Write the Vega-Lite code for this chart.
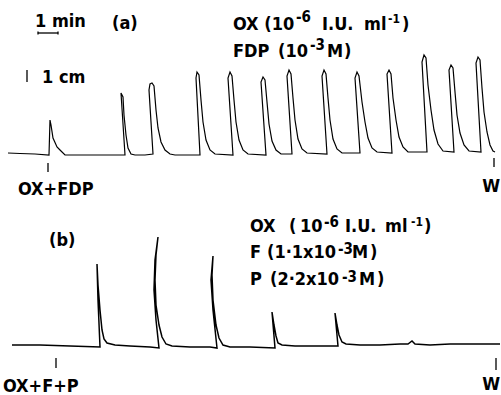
{
  "$schema": "https://vega.github.io/schema/vega-lite/v6.json",
  "padding": 0,
  "spacing": 0,
  "bounds": "flush",
  "background": "white",
  "config": {"view": {"stroke": null}, "text": {"font": "'DejaVu Sans Condensed', 'DejaVu Sans'", "fontSize": 18, "fontWeight": "bold", "color": "black", "baseline": "alphabetic", "align": "left"}},
  "datasets": {
    "traceA": [
      {"t":0,"v":2},{"t":36,"v":1.5},{"t":81,"v":1},{"t":123,"v":0},{"t":126,"v":35},{"t":129,"v":30},{"t":135,"v":17},{"t":147,"v":8},{"t":156,"v":5},{"t":171,"v":0},{"t":246,"v":0},{"t":306,"v":0},{"t":351,"v":0},
      {"t":339,"v":62},{"t":345,"v":58},{"t":348,"v":40},{"t":354,"v":20},{"t":360,"v":7},{"t":369,"v":1},{"t":381,"v":0},{"t":411,"v":0},{"t":435,"v":1},
      {"t":423,"v":65},{"t":426,"v":71},{"t":432,"v":72},{"t":438,"v":69},{"t":444,"v":45},{"t":450,"v":27},{"t":459,"v":13},{"t":471,"v":5},{"t":486,"v":1},{"t":501,"v":0},{"t":576,"v":0},
      {"t":564,"v":77},{"t":567,"v":83},{"t":573,"v":80},{"t":579,"v":55},{"t":585,"v":33},{"t":594,"v":15},{"t":606,"v":5},{"t":621,"v":1},{"t":675,"v":0},
      {"t":660,"v":77},{"t":666,"v":83},{"t":672,"v":79},{"t":678,"v":55},{"t":684,"v":33},{"t":693,"v":15},{"t":705,"v":5},{"t":720,"v":1},{"t":774,"v":0},
      {"t":759,"v":73},{"t":765,"v":78},{"t":771,"v":75},{"t":777,"v":53},{"t":783,"v":31},{"t":792,"v":14},{"t":804,"v":5},{"t":819,"v":1},{"t":852,"v":1},
      {"t":837,"v":79},{"t":843,"v":85},{"t":849,"v":81},{"t":855,"v":57},{"t":861,"v":35},{"t":870,"v":16},{"t":882,"v":6},{"t":897,"v":2},{"t":957,"v":1},
      {"t":942,"v":79},{"t":948,"v":85},{"t":954,"v":81},{"t":960,"v":57},{"t":966,"v":35},{"t":975,"v":16},{"t":987,"v":6},{"t":1002,"v":2},{"t":1056,"v":2},
      {"t":1041,"v":77},{"t":1047,"v":83},{"t":1053,"v":79},{"t":1062,"v":53},{"t":1071,"v":33},{"t":1080,"v":17},{"t":1092,"v":7},{"t":1107,"v":3},{"t":1152,"v":2},
      {"t":1137,"v":81},{"t":1143,"v":85},{"t":1149,"v":81},{"t":1155,"v":57},{"t":1164,"v":35},{"t":1173,"v":18},{"t":1185,"v":8},{"t":1200,"v":3},{"t":1257,"v":3},
      {"t":1242,"v":93},{"t":1248,"v":100},{"t":1254,"v":97},{"t":1260,"v":70},{"t":1269,"v":45},{"t":1278,"v":25},{"t":1290,"v":11},{"t":1305,"v":4},{"t":1338,"v":3},
      {"t":1323,"v":85},{"t":1329,"v":90},{"t":1335,"v":87},{"t":1341,"v":63},{"t":1347,"v":40},{"t":1356,"v":22},{"t":1368,"v":10},{"t":1383,"v":4},{"t":1419,"v":3},
      {"t":1404,"v":92},{"t":1410,"v":98},{"t":1416,"v":95},{"t":1422,"v":67},{"t":1428,"v":43},{"t":1437,"v":23},{"t":1446,"v":10},{"t":1455,"v":4},{"t":1461,"v":3}
    ],
    "traceB": [
      {"t":12,"v":1},{"t":96,"v":1},{"t":186,"v":0},{"t":276,"v":-1},
      {"t":270,"v":46},{"t":267,"v":82},{"t":270,"v":61},{"t":276,"v":36},{"t":282,"v":16},{"t":288,"v":7},{"t":297,"v":3},{"t":321,"v":1},{"t":366,"v":0},{"t":426,"v":-1},{"t":453,"v":-2},
      {"t":444,"v":26},{"t":438,"v":56},{"t":441,"v":86},{"t":450,"v":109},{"t":444,"v":91},{"t":441,"v":66},{"t":444,"v":41},{"t":453,"v":21},{"t":462,"v":9},{"t":474,"v":2},{"t":492,"v":0},{"t":546,"v":-1},{"t":606,"v":-1},{"t":627,"v":-2},
      {"t":615,"v":36},{"t":609,"v":66},{"t":615,"v":90},{"t":612,"v":71},{"t":615,"v":46},{"t":624,"v":21},{"t":633,"v":8},{"t":645,"v":1},{"t":666,"v":-1},{"t":726,"v":-1},{"t":801,"v":-2},
      {"t":792,"v":34},{"t":798,"v":21},{"t":804,"v":10},{"t":810,"v":3},{"t":822,"v":1},{"t":861,"v":0},{"t":906,"v":0},{"t":990,"v":0},
      {"t":981,"v":33},{"t":987,"v":21},{"t":993,"v":11},{"t":1002,"v":4},{"t":1014,"v":2},{"t":1056,"v":1},{"t":1116,"v":1},{"t":1176,"v":2},{"t":1200,"v":2},
      {"t":1212,"v":5},{"t":1221,"v":2},{"t":1266,"v":1},{"t":1326,"v":2},{"t":1386,"v":2},{"t":1476,"v":2}
    ],
    "rulesA": [
      {"t":90,"t2":150,"v":122,"v2":122},
      {"t":90,"t2":90,"v":120.5,"v2":123.5},
      {"t":150,"t2":150,"v":120.5,"v2":123.5},
      {"t":57,"t2":57,"v":73,"v2":85},
      {"t":120,"t2":120,"v":-8,"v2":-17},
      {"t":1458,"t2":1458,"v":-3,"v2":-12}
    ],
    "rulesB": [
      {"t":144,"t2":144,"v":-12,"v2":-22},
      {"t":1464,"t2":1464,"v":-12,"v2":-24}
    ],
    "textA": [
      {"t":81,"v":128,"label":"1 min","role":"main"},
      {"t":312,"v":126,"label":"(a)","role":"main"},
      {"t":675,"v":125,"label":"OX (10","role":"main"},
      {"t":864,"v":133,"label":"-6","role":"sup"},
      {"t":942,"v":125,"label":"I.U.","role":"main"},
      {"t":1068,"v":125,"label":"ml","role":"main"},
      {"t":1140,"v":132,"label":"-1","role":"supsmall"},
      {"t":1182,"v":125,"label":")","role":"main"},
      {"t":675,"v":98,"label":"FDP","role":"main"},
      {"t":810,"v":98,"label":"(10","role":"main"},
      {"t":906,"v":105,"label":"-3","role":"sup"},
      {"t":957,"v":98,"label":"M","role":"main"},
      {"t":1008,"v":98,"label":")","role":"main"},
      {"t":102,"v":72,"label":"1 cm","role":"main"},
      {"t":30,"v":-40,"label":"OX+FDP","role":"main"},
      {"t":1476,"v":-37,"label":"W","role":"right"}
    ],
    "textB": [
      {"t":123,"v":100,"label":"(b)","role":"main"},
      {"t":726,"v":114,"label":"OX","role":"main"},
      {"t":843,"v":114,"label":"(","role":"main"},
      {"t":876,"v":114,"label":"10","role":"main"},
      {"t":948,"v":119,"label":"-6","role":"sup"},
      {"t":1011,"v":114,"label":"I.U.","role":"main"},
      {"t":1131,"v":114,"label":"ml","role":"main"},
      {"t":1209,"v":120,"label":"-1","role":"supsmall"},
      {"t":1248,"v":114,"label":")","role":"main"},
      {"t":726,"v":88,"label":"F","role":"main"},
      {"t":777,"v":88,"label":"(1·1x10","role":"main"},
      {"t":990,"v":92,"label":"-3","role":"sup"},
      {"t":1032,"v":88,"label":"M","role":"main"},
      {"t":1086,"v":88,"label":")","role":"main"},
      {"t":726,"v":61,"label":"P","role":"main"},
      {"t":786,"v":61,"label":"(2·2x10","role":"main"},
      {"t":1002,"v":64,"label":"-3","role":"sup"},
      {"t":1053,"v":61,"label":"M","role":"main"},
      {"t":1107,"v":61,"label":")","role":"main"},
      {"t":-15,"v":-46,"label":"OX+F+P","role":"main"},
      {"t":1476,"v":-44,"label":"W","role":"right"}
    ]
  },
  "vconcat": [
    {
      "width": 501,
      "height": 197,
      "encoding": {
        "x": {"field": "t", "type": "quantitative", "scale": {"domain": [-24, 1479], "nice": false, "zero": false}, "axis": null},
        "y": {"field": "v", "type": "quantitative", "scale": {"domain": [-42, 155], "nice": false, "zero": false}, "axis": null}
      },
      "layer": [
        {"data": {"name": "traceA"}, "mark": {"type": "line", "color": "black", "strokeWidth": 1.2}, "encoding": {"order": {"value": null}}},
        {"data": {"name": "rulesA"}, "mark": {"type": "rule", "color": "black", "strokeWidth": 1.3}, "encoding": {"x2": {"field": "t2"}, "y2": {"field": "v2"}}},
        {"data": {"name": "textA"}, "transform": [{"filter": "datum.role == 'main'"}], "mark": {"type": "text"}, "encoding": {"text": {"field": "label"}}},
        {"data": {"name": "textA"}, "transform": [{"filter": "datum.role == 'sup'"}], "mark": {"type": "text", "fontSize": 15}, "encoding": {"text": {"field": "label"}}},
        {"data": {"name": "textA"}, "transform": [{"filter": "datum.role == 'supsmall'"}], "mark": {"type": "text", "fontSize": 12}, "encoding": {"text": {"field": "label"}}},
        {"data": {"name": "textA"}, "transform": [{"filter": "datum.role == 'right'"}], "mark": {"type": "text", "align": "right"}, "encoding": {"text": {"field": "label"}}}
      ]
    },
    {
      "width": 501,
      "height": 198,
      "encoding": {
        "x": {"field": "t", "type": "quantitative", "scale": {"domain": [-24, 1479], "nice": false, "zero": false}, "axis": null},
        "y": {"field": "v", "type": "quantitative", "scale": {"domain": [-49, 149], "nice": false, "zero": false}, "axis": null}
      },
      "layer": [
        {"data": {"name": "traceB"}, "mark": {"type": "line", "color": "black", "strokeWidth": 1.5}, "encoding": {"order": {"value": null}}},
        {"data": {"name": "rulesB"}, "mark": {"type": "rule", "color": "black", "strokeWidth": 1.3}, "encoding": {"x2": {"field": "t2"}, "y2": {"field": "v2"}}},
        {"data": {"name": "textB"}, "transform": [{"filter": "datum.role == 'main'"}], "mark": {"type": "text"}, "encoding": {"text": {"field": "label"}}},
        {"data": {"name": "textB"}, "transform": [{"filter": "datum.role == 'sup'"}], "mark": {"type": "text", "fontSize": 15}, "encoding": {"text": {"field": "label"}}},
        {"data": {"name": "textB"}, "transform": [{"filter": "datum.role == 'supsmall'"}], "mark": {"type": "text", "fontSize": 12}, "encoding": {"text": {"field": "label"}}},
        {"data": {"name": "textB"}, "transform": [{"filter": "datum.role == 'right'"}], "mark": {"type": "text", "align": "right"}, "encoding": {"text": {"field": "label"}}}
      ]
    }
  ]
}
